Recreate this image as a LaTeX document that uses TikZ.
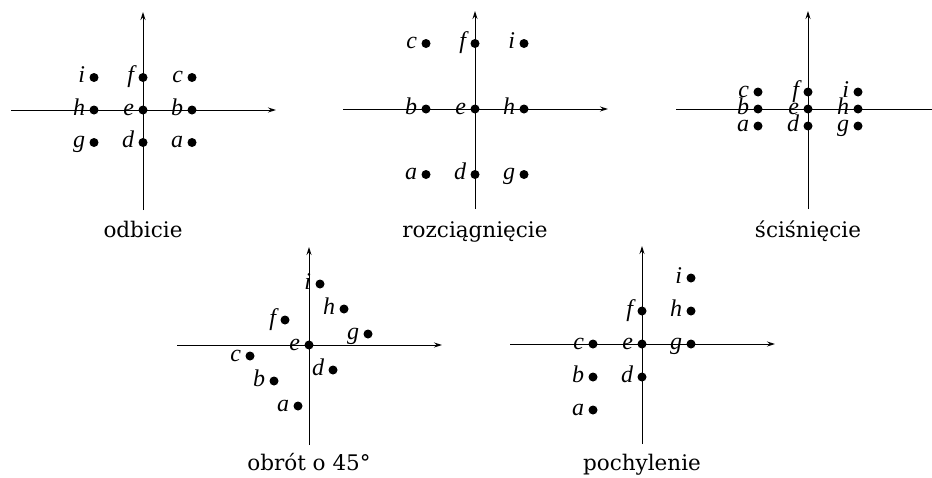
\documentclass[tikz,border=0pt]{standalone}
\usepackage{fontspec}
\newfontfamily\podpisfont{DejaVu Serif}
\newfontfamily\literafont{Liberation Serif}
\usetikzlibrary{arrows.meta}
\tikzset{
  kropka/.style={circle,fill,inner sep=0pt,minimum size=9pt},
  litera/.style={font=\literafont\fontsize{24}{28}\selectfont\itshape,inner sep=1pt,
    text height=10.5pt,text depth=0pt},
  os/.style={line width=1pt,-{Stealth[length=8pt,width=5pt]}},
  podpis/.style={font=\podpisfont\fontsize{21.5}{26}\selectfont,anchor=base},
}
% siatka 3x3 punktow a..i, przeksztalcona przez wektory x i y scope'u
\newcommand{\siatka}[1]{%
  \foreach \n/\x/\y in {a/-1/-1,b/-1/0,c/-1/1,d/0/-1,e/0/0,f/0/1,g/1/-1,h/1/0,i/1/1}
    \node[kropka,label={[litera,label distance=3pt]left:\n}] (#1\n) at (\x,\y) {};}
% osie w jednostkach bezwzglednych
\newcommand{\osie}{%
  \draw[os] (-132pt,0pt) -- (133pt,0pt);
  \draw[os] (0pt,-100pt) -- (0pt,98pt);}
\begin{document}
\begin{tikzpicture}
  \useasboundingbox (0pt,0pt) rectangle (932pt,-477pt);
  \clip (0pt,0pt) rectangle (932pt,-477pt);
  % odbicie
  \begin{scope}[shift={(143pt,-110pt)},x={(-49pt,0pt)},y={(0pt,32.5pt)}]
    \osie
    \siatka{odb}
    \node[podpis] (odbtxt) at (0pt,-127pt) {odbicie};
  \end{scope}
  % rozciagniecie
  \begin{scope}[shift={(475pt,-109pt)},x={(49pt,0pt)},y={(0pt,65.5pt)}]
    \osie
    \siatka{roz}
    \node[podpis] (roztxt) at (0pt,-128pt) {rozciągnięcie};
  \end{scope}
  % scisniecie
  \begin{scope}[shift={(808pt,-109pt)},x={(50pt,0pt)},y={(0pt,17pt)}]
    \osie
    \siatka{sci}
    \node[podpis] (scitxt) at (0pt,-128pt) {ściśnięcie};
  \end{scope}
  % obrot
  \begin{scope}[shift={(309pt,-345pt)},x={(35pt,36pt)},y={(-24pt,25pt)}]
    \osie
    \siatka{obr}
    \node[podpis] (obrtxt) at (0pt,-125pt) {obrót o 45°};
  \end{scope}
  % pochylenie
  \begin{scope}[shift={(642pt,-344pt)},x={(49pt,33pt)},y={(0pt,33pt)}]
    \osie
    \siatka{poc}
    \node[podpis] (poctxt) at (0pt,-126pt) {pochylenie};
  \end{scope}
\end{tikzpicture}
\end{document}
